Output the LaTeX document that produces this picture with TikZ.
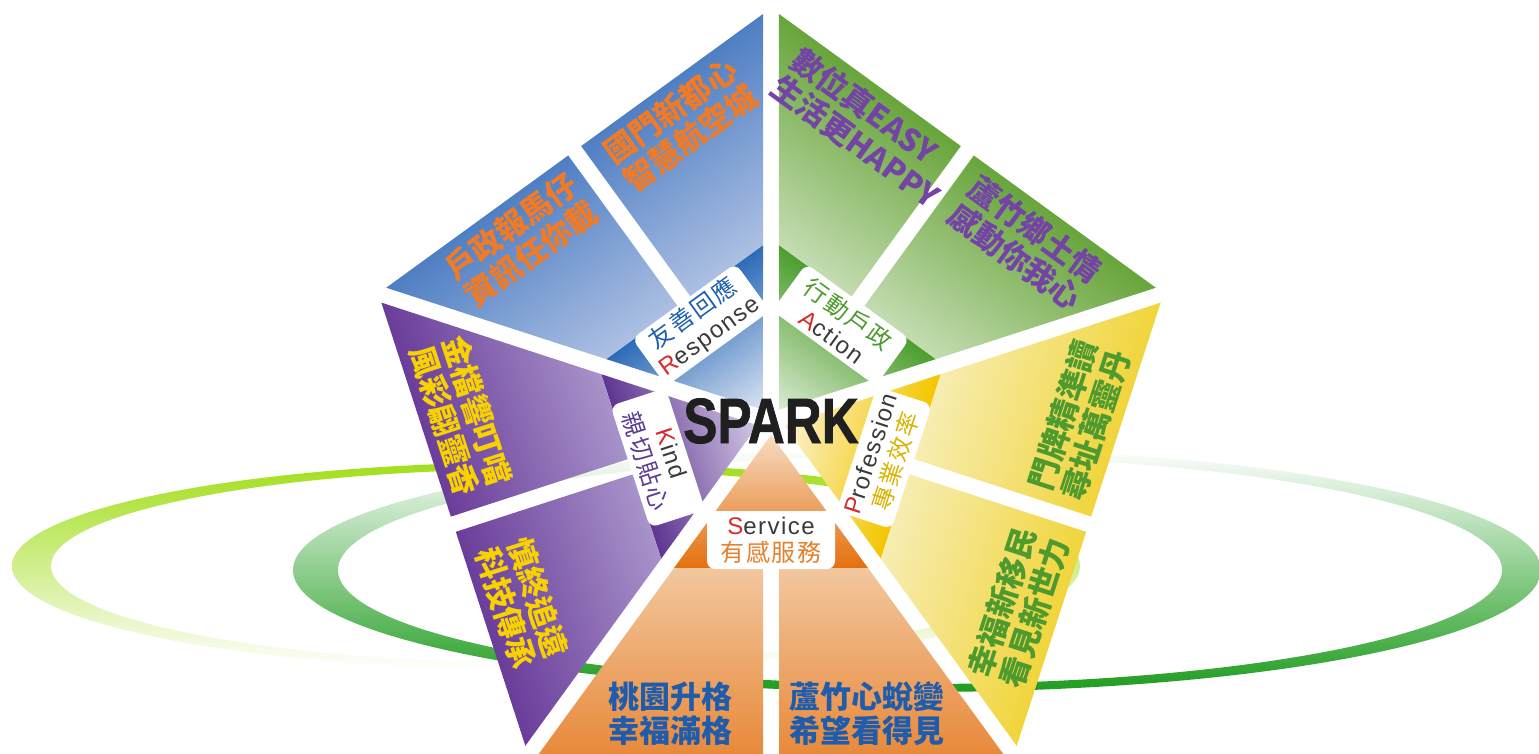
\documentclass[tikz,border=0pt]{standalone}
\usepackage{fontspec}
\setmainfont{Liberation Sans}
\newfontfamily\cjk{Noto Sans CJK TC}
\newfontfamily\cjktag[LetterSpace=8]{Noto Sans CJK TC}
\newfontfamily\tagfont[LetterSpace=6]{Liberation Sans}
\newfontfamily\sparkfont[FakeBold=1.2]{Liberation Sans Bold}
\usetikzlibrary{positioning}

\definecolor{orTip}{HTML}{F7DCC4}\definecolor{orBase}{HTML}{E4700E}
\definecolor{orMid}{HTML}{F2C79E}\definecolor{orOut}{HTML}{E8893A}
\definecolor{orTxt}{HTML}{1F5CAB}\definecolor{orTag}{HTML}{E6802C}
\definecolor{blTip}{HTML}{DCE5F3}\definecolor{blBase}{HTML}{2D6BB7}
\definecolor{blMid}{HTML}{ADC0E3}\definecolor{blOut}{HTML}{4F7FC3}
\definecolor{blTxt}{HTML}{F07A26}\definecolor{blTag}{HTML}{1D5FAE}
\definecolor{grTip}{HTML}{DCEBD2}\definecolor{grBase}{HTML}{4C9E2E}
\definecolor{grMid}{HTML}{C4DCB2}\definecolor{grOut}{HTML}{68A53B}
\definecolor{grTxt}{HTML}{7443A6}\definecolor{grTag}{HTML}{4F9A2F}
\definecolor{yeTip}{HTML}{FBF3CF}\definecolor{yeBase}{HTML}{F4C600}
\definecolor{yeMid}{HTML}{F7EDB2}\definecolor{yeOut}{HTML}{F1D53C}
\definecolor{yeTxt}{HTML}{4E9A2E}\definecolor{yeTag}{HTML}{D8B400}
\definecolor{puTip}{HTML}{D3C8E4}\definecolor{puBase}{HTML}{5E3592}
\definecolor{puMid}{HTML}{A893CA}\definecolor{puOut}{HTML}{6A3D9A}
\definecolor{puTxt}{HTML}{F7D100}\definecolor{puTag}{HTML}{5A3A96}
\definecolor{ringA}{HTML}{A2DE1B}\definecolor{ringAmid}{HTML}{D6EFB4}
\definecolor{ringB}{HTML}{1E9C1E}\definecolor{ringBmid}{HTML}{A3CCA3}
\definecolor{tagRed}{HTML}{D52B2B}\definecolor{tagGray}{HTML}{3A3A3A}

\begin{document}
\begin{tikzpicture}[x=1pt, y=-1pt,
  tag/.style={fill=white, rounded corners=8pt, minimum width=128pt, minimum height=58pt,
    inner sep=3pt, align=center, text=tagGray, font=\fontsize{24}{27}\selectfont},
  slogan/.style={font=\cjk\bfseries\fontsize{31}{34}\selectfont, align=left}]
\useasboundingbox (0,0) rectangle (1539,754);
\coordinate (C) at (771,421);
\shade[even odd rule, top color=ringA, middle color=ringAmid, bottom color=white]
  (546,566) ellipse [x radius=534pt, y radius=104pt]
  (546,566) ellipse [x radius=495pt, y radius=97pt];
\shade[even odd rule, top color=white, middle color=ringBmid, bottom color=ringB]
  (917,570) ellipse [x radius=624pt, y radius=122pt]
  (920,570) ellipse [x radius=582pt, y radius=114pt];
\foreach \ang/\col/\trot/\tagtxt/\lefttxt/\righttxt in {
  0/or/0/{{\tagfont{\color{tagRed}S}ervice}\\{\cjktag\color{orTag}有感服務}}/{桃園升格\\幸福滿格}/{蘆竹心蛻變\\希望看得見},
  -144/bl/180/{{\cjktag\color{blTag}友善回應}\\{\tagfont{\color{tagRed}R}esponse}}/{國門新都心\\智慧航空城}/{戶政報馬仔\\資訊任你載},
  144/gr/180/{{\cjktag\color{grTag}行動戶政}\\{\tagfont{\color{tagRed}A}ction}}/{蘆竹鄉土情\\感動你我心}/{數位真EASY\\生活更HAPPY},
  72/ye/0/{{\tagfont{\color{tagRed}P}rofession}\\{\cjktag\color{yeTag}專業效率}}/{幸福新移民\\看見新世力}/{門牌精準讀\\尋址萬靈丹},
  -72/pu/0/{{\tagfont{\color{tagRed}K}ind}\\{\cjktag\color{puTag}親切貼心}}/{金檔響叮噹\\風彩翩靈香}/{慎終追遠\\科技傳承}} {
  \begin{scope}[transform canvas={rotate around={\ang:(C)}}, shift={(C)}]
    \shade[top color=\col Tip, bottom color=\col Base] (0,14) -- (97,147) -- (-97,147) -- cycle;
    \shade[top color=\col Mid, bottom color=\col Out] (-97,147) -- (-8,147) -- (-8,334) -- (-233,334) -- cycle;
    \shade[top color=\col Mid, bottom color=\col Out] (8,147) -- (97,147) -- (233,334) -- (8,334) -- cycle;
    \node[tag, rotate=\trot] (tag-\col) at (0,119) {\tagtxt};
    \node[slogan, text=\col Txt, rotate=\trot] (left-\col) at (-101,293) {\lefttxt};
    \node[slogan, text=\col Txt, rotate=\trot] (right-\col) at (96,293) {\righttxt};
  \end{scope}
}
\node[font=\sparkfont\fontsize{64}{64}\selectfont, xscale=0.8, text=black!88] (spark) at (771,421) {SPARK};
\end{tikzpicture}
\end{document}
